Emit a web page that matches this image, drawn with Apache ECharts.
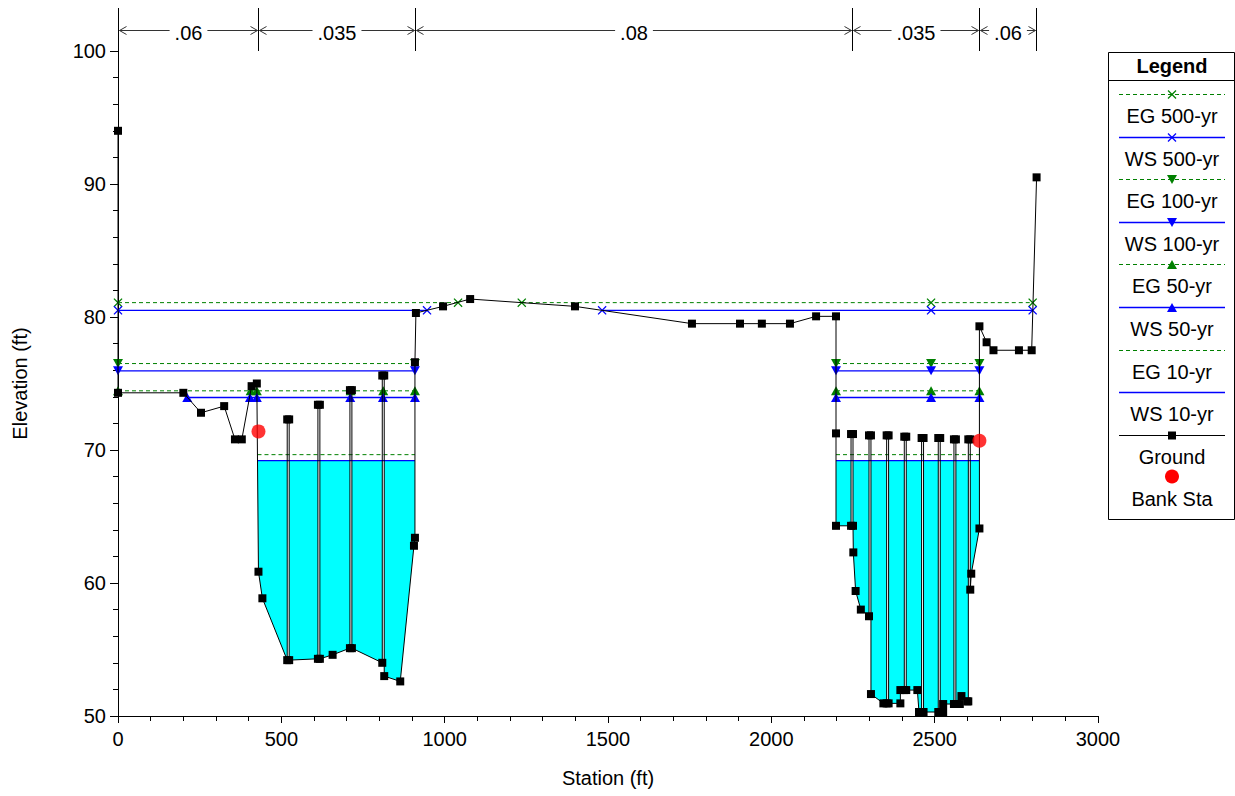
<!DOCTYPE html>
<html><head><meta charset="utf-8">
<script src="https://cdn.jsdelivr.net/npm/echarts@6/dist/echarts.min.js"></script>
<style>html,body{margin:0;padding:0;background:#fff}#c{width:1235px;height:796px}</style>
</head><body><div id="c"></div>
<script>
// ---- data ----
const groundSta = [0,0,200,254,325,358,379,409,425,430,442,518,518,524,524,612,612,618,618,657,710,710,716,716,809,809,815,815,864,906,909,909,912,995,1078,1399,1757,1904,1971,2057,2137,2198,2198,2198,2244,2244,2250,2250,2251,2258,2274,2299,2299,2305,2305,2343,2353,2353,2359,2359,2395,2395,2407,2407,2413,2413,2447,2452,2460,2460,2466,2466,2511,2511,2517,2517,2526,2526,2559,2559,2565,2565,2577,2582,2600,2603,2603,2609,2609,2612,2637,2637,2659,2680,2758,2797,2812];
const groundElev = [94.0,74.3,74.3,72.8,73.3,70.8,70.8,74.8,75.0,60.85,58.85,54.2,72.3,72.3,54.2,54.3,73.4,73.4,54.3,54.6,55.1,74.5,74.5,55.1,54.0,75.6,75.6,53.0,52.6,62.8,63.4,76.6,80.3,80.8,81.35,80.8,79.5,79.5,79.5,79.5,80.05,80.05,71.25,64.3,64.3,71.2,71.2,64.3,62.3,59.4,58.0,57.5,71.1,71.1,51.65,50.95,50.95,71.1,71.1,50.95,50.95,51.95,51.95,71.0,71.0,51.95,51.95,50.3,50.3,70.9,70.9,50.3,50.3,70.9,70.9,50.3,50.3,50.9,50.9,70.8,70.8,50.9,50.9,51.5,51.1,51.1,70.8,70.8,59.5,60.7,64.1,79.3,78.1,77.5,77.5,77.5,90.5];
const bankSta = [430, 2637];
const bankElev = [71.4, 70.7];
const profileNames = ['EG 500-yr','WS 500-yr','EG 100-yr','WS 100-yr','EG 50-yr','WS 50-yr','EG 10-yr','WS 10-yr'];
const profileElev = [81.08, 80.5, 76.5, 75.95, 74.45, 73.95, 69.65, 69.2];
const profileSta = [
  [0,1041,null,1236,2489,2800],
  [0,946,null,1482,2489,2800],
  [0,909,null,2198,2489,2637],
  [0,909,null,2198,2489,2637],
  [0,406,425,712,812,909,null,2198,2489,2637],
  [212,404,425,711,811,909,null,2198,2489,2637],
  [427,909,null,2198,2637],
  [427,909,null,2198,2637]
];
const nBreaks = [0, 430, 909, 2248, 2637, 2810];
const nValues = ['.06', '.035', '.08', '.035', '.06'];
const legendNames = ['EG 500-yr','WS 500-yr','EG 100-yr','WS 100-yr','EG 50-yr','WS 50-yr','EG 10-yr','WS 10-yr','Ground','Bank Sta'];

// ---- styles ----
const FONT = '"Liberation Sans", Arial, sans-serif';
const GREEN = '#008000', BLUE = '#0000ff';
const xPath = 'path://M0,1L1,0L5,4L9,0L10,1L6,5L10,9L9,10L5,6L1,10L0,9L4,5Z';

function profileSeries(i){
  const isEG = i % 2 === 0;
  const kind = Math.floor(i / 2);
  const color = isEG ? GREEN : BLUE;
  const data = profileSta[i].map(s => s === null ? ['-','-'] : [s, profileElev[i]]);
  let symbol = 'none', size = 9, rot = 0;
  if (kind === 0) { symbol = xPath; size = 9; }
  else if (kind === 1) { symbol = 'triangle'; size = [10,9]; rot = 180; }
  else if (kind === 2) { symbol = 'triangle'; size = [10,9]; }
  return {
    type: 'line', name: profileNames[i], data: data, symbol: symbol, symbolSize: size,
    symbolRotate: rot, showSymbol: kind < 3, connectNulls: false, silent: true, z: 3,
    lineStyle: { color: color, width: isEG ? 1 : 1.4, type: isEG ? [4,3] : 'solid' },
    itemStyle: { color: color }
  };
}

function fillItem(params, api){
  const L = profileElev[7];
  const pts = [];
  for (let i = 0; i < groundSta.length; i++) {
    if (i > 0) {
      const x0 = groundSta[i-1], y0 = groundElev[i-1], x1 = groundSta[i], y1 = groundElev[i];
      if ((y0 - L) * (y1 - L) < 0) {
        const t = (L - y0) / (y1 - y0);
        pts.push(api.coord([x0 + t * (x1 - x0), L]));
      }
    }
    pts.push(api.coord([groundSta[i], Math.min(groundElev[i], L)]));
  }
  return { type: 'polygon', shape: { points: pts }, style: { fill: '#00ffff', stroke: null } };
}

function nItem(params, api){
  const a = api.value(0), b = api.value(1), idx = api.value(2);
  const pa = api.coord([a, 100]), pb = api.coord([b, 100]);
  const y0 = pa[1], ly = Math.round(y0 - 21) + 0.5, top = y0 - 43;
  const xa = Math.round(pa[0]) + 0.5, xb = Math.round(pb[0]) + 0.5, xm = (xa + xb) / 2;
  const st = { stroke: '#333', lineWidth: 1, fill: null };
  return { type: 'group', children: [
    { type: 'line', shape: { x1: xa, y1: top, x2: xa, y2: y0 }, style: { stroke: '#000', lineWidth: 1 } },
    { type: 'line', shape: { x1: xb, y1: top, x2: xb, y2: y0 }, style: { stroke: '#000', lineWidth: 1 } },
    { type: 'line', shape: { x1: xa + 1, y1: ly, x2: xb - 1, y2: ly }, style: st },
    { type: 'polyline', shape: { points: [[xa + 8, ly - 4], [xa + 1, ly], [xa + 8, ly + 4]] }, style: st },
    { type: 'polyline', shape: { points: [[xb - 8, ly - 4], [xb - 1, ly], [xb - 8, ly + 4]] }, style: st },
    { type: 'text', style: { text: nValues[idx], x: xm, y: ly + 2, align: 'center', verticalAlign: 'middle',
        textAlign: 'center', textVerticalAlign: 'middle', font: '20px ' + FONT, fill: '#000',
        backgroundColor: '#fff', padding: [0, 5] } }
  ]};
}

// ---- legend (drawn as graphic) ----
const LX0 = 1119, LX1 = 1225, LCX = 1172;
const legendChildren = [
  { type: 'rect', shape: { x: 1108.5, y: 52.5, width: 126, height: 467 }, style: { fill: '#fff', stroke: '#000', lineWidth: 1 } },
  { type: 'text', style: { text: 'Legend', x: LCX, y: 66, align: 'center', verticalAlign: 'middle', font: 'bold 20px ' + FONT, fill: '#000' } },
  { type: 'line', shape: { x1: 1108.5, y1: 80.5, x2: 1234.5, y2: 80.5 }, style: { stroke: '#000', lineWidth: 1 } }
];
legendNames.forEach(function(name, i){
  const ly = Math.round(94 + 42.6 * i) + 0.5;
  if (i < 8) {
    const isEG = i % 2 === 0, kind = Math.floor(i / 2);
    const color = isEG ? GREEN : BLUE;
    legendChildren.push({ type: 'line', shape: { x1: LX0, y1: ly, x2: LX1, y2: ly },
      style: { stroke: color, lineWidth: isEG ? 1 : 1.4, lineDash: isEG ? [4,3] : null } });
    if (kind === 0) {
      legendChildren.push({ type: 'line', shape: { x1: LCX - 4, y1: ly - 4, x2: LCX + 4, y2: ly + 4 }, style: { stroke: color, lineWidth: 1.2 } });
      legendChildren.push({ type: 'line', shape: { x1: LCX - 4, y1: ly + 4, x2: LCX + 4, y2: ly - 4 }, style: { stroke: color, lineWidth: 1.2 } });
    } else if (kind === 1) {
      legendChildren.push({ type: 'polygon', shape: { points: [[LCX - 5, ly - 4.5], [LCX + 5, ly - 4.5], [LCX, ly + 4.5]] }, style: { fill: color } });
    } else if (kind === 2) {
      legendChildren.push({ type: 'polygon', shape: { points: [[LCX - 5, ly + 4.5], [LCX + 5, ly + 4.5], [LCX, ly - 4.5]] }, style: { fill: color } });
    }
  } else if (i === 8) {
    legendChildren.push({ type: 'line', shape: { x1: LX0, y1: ly, x2: LX1, y2: ly }, style: { stroke: '#000', lineWidth: 1 } });
    legendChildren.push({ type: 'rect', shape: { x: LCX - 4, y: ly - 4, width: 8, height: 8 }, style: { fill: '#000' } });
  } else {
    legendChildren.push({ type: 'circle', shape: { cx: LCX, cy: ly - 1, r: 7 }, style: { fill: '#ff0000' } });
  }
  legendChildren.push({ type: 'text', style: { text: name, x: LCX, y: ly + 21, align: 'center', verticalAlign: 'middle', font: '20px ' + FONT, fill: '#000' } });
});

const chart = echarts.init(document.getElementById('c'), null, { renderer: 'svg', width: 1235, height: 796 });
const axisCommon = {
  axisLine: { show: true, onZero: false, lineStyle: { color: '#000', width: 1 } },
  splitLine: { show: false },
  axisLabel: { color: '#000', fontSize: 20, fontFamily: FONT, formatter: function(v){ return String(v); } },
  nameTextStyle: { color: '#000', fontSize: 20, fontFamily: FONT },
  minorTick: { show: true, splitNumber: 5, length: 5, lineStyle: { color: '#000' } }
};
const option = {
  animation: false,
  backgroundColor: '#fff',
  grid: { left: 118, right: 137, top: 51, bottom: 80, containLabel: false },
  xAxis: Object.assign({}, axisCommon, {
    type: 'value', min: 0, max: 3000, interval: 500,
    name: 'Station (ft)', nameLocation: 'middle', nameGap: 52,
    axisTick: { show: true, length: 7, lineStyle: { color: '#000' } },
    axisLabel: Object.assign({}, axisCommon.axisLabel, { margin: 13 })
  }),
  yAxis: Object.assign({}, axisCommon, {
    type: 'value', min: 50, max: 100, interval: 10,
    name: 'Elevation (ft)', nameLocation: 'middle', nameGap: 88,
    axisTick: { show: true, length: 8, lineStyle: { color: '#000' } },
    axisLabel: Object.assign({}, axisCommon.axisLabel, { margin: 12 })
  }),
  graphic: [{ type: 'group', children: legendChildren }],
  series: [
    { type: 'custom', name: 'fill', renderItem: fillItem, data: [[0, 50]], z: 1, silent: true, clip: true },
    { type: 'custom', name: 'n', renderItem: nItem,
      data: nValues.map(function(v, i){ return [nBreaks[i], nBreaks[i+1], i]; }), z: 2, silent: true, clip: false }
  ].concat(profileNames.map(function(n, i){ return profileSeries(i); })).concat([
    { type: 'line', name: 'Ground', data: groundSta.map(function(s, i){ return [s, groundElev[i]]; }),
      symbol: 'rect', symbolSize: 8, showSymbol: true, silent: true, z: 4,
      lineStyle: { color: '#000', width: 1 }, itemStyle: { color: '#000' } },
    { type: 'scatter', name: 'Bank Sta', data: bankSta.map(function(s, i){ return [s, bankElev[i]]; }),
      symbol: 'circle', symbolSize: 14, silent: true, z: 5, itemStyle: { color: '#ff0000' } }
  ])
};
chart.setOption(option);
</script>
</body></html>
